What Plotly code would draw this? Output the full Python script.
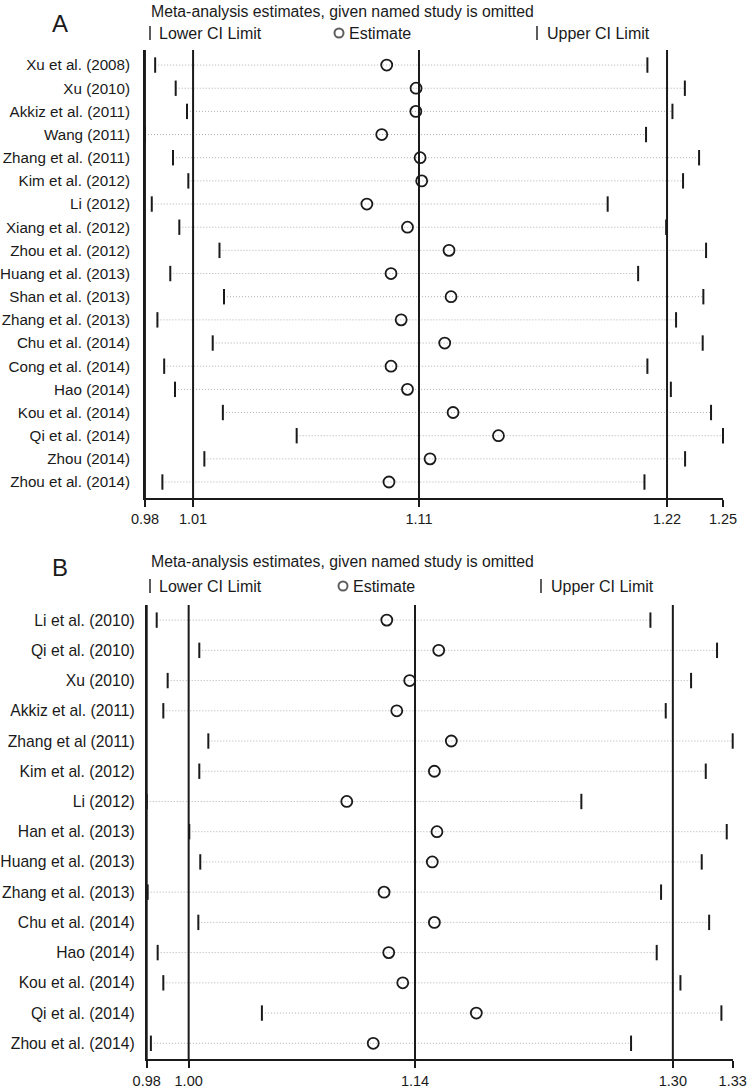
import plotly.graph_objects as go

FONT = "Liberation Sans, Arial, Helvetica, sans-serif"
INK = "#1a1a1a"
DOT = "#b0b0b0"

# ---------------- Panel A data ----------------
studies_A = [
    "Xu et al. (2008)", "Xu (2010)", "Akkiz et al. (2011)", "Wang (2011)",
    "Zhang et al. (2011)", "Kim et al. (2012)", "Li (2012)", "Xiang et al. (2012)",
    "Zhou et al. (2012)", "Huang et al. (2013)", "Shan et al. (2013)",
    "Zhang et al. (2013)", "Chu et al. (2014)", "Cong et al. (2014)", "Hao (2014)",
    "Kou et al. (2014)", "Qi et al. (2014)", "Zhou (2014)", "Zhou et al. (2014)",
]
lower_A = [0.9892, 0.9983, 1.0033, 0.9847, 0.9971, 1.0039, 0.9877, 0.9999,
           1.0177, 0.9959, 1.0197, 0.9902, 1.0147, 0.9932, 0.9980, 1.0192,
           1.0519, 1.0110, 0.9924]
est_A = [1.0918, 1.1048, 1.1047, 1.0896, 1.1066, 1.1073, 1.0830, 1.1010,
         1.1194, 1.0937, 1.1203, 1.0982, 1.1175, 1.0937, 1.1010, 1.1212,
         1.1413, 1.1110, 1.0928]
upper_A = [1.2073, 1.2239, 1.2184, 1.2067, 1.2302, 1.2231, 1.1897, 1.2156,
           1.2333, 1.2032, 1.2321, 1.2200, 1.2318, 1.2073, 1.2177, 1.2355,
           1.2408, 1.2240, 1.2060]
overall_A = [1.0060, 1.1061, 1.2160]          # pooled lower CI, estimate, upper CI
ticktext_A = ["0.98", "1.01", "1.11", "1.22", "1.25"]

# ---------------- Panel B data ----------------
studies_B = [
    "Li et al. (2010)", "Qi et al. (2010)", "Xu (2010)", "Akkiz et al. (2011)",
    "Zhang et al (2011)", "Kim et al. (2012)", "Li (2012)", "Han et al. (2013)",
    "Huang et al. (2013)", "Zhang et al. (2013)", "Chu et al. (2014)", "Hao (2014)",
    "Kou et al. (2014)", "Qi et al. (2014)", "Zhou et al. (2014)",
]
lower_B = [0.9802, 1.0066, 0.9870, 0.9843, 1.0122, 1.0066, 0.9740, 1.0004,
           1.0072, 0.9746, 1.0060, 0.9808, 0.9843, 1.0454, 0.9766]
est_B = [1.1228, 1.1550, 1.1370, 1.1290, 1.1628, 1.1523, 1.0980, 1.1539,
         1.1510, 1.1211, 1.1523, 1.1240, 1.1327, 1.1783, 1.1144]
upper_B = [1.2862, 1.3275, 1.3114, 1.2957, 1.3372, 1.3205, 1.2434, 1.3335,
           1.3180, 1.2928, 1.3226, 1.2901, 1.3048, 1.3302, 1.2742]
overall_B = [1.0000, 1.1403, 1.3001]
ticktext_B = ["0.98", "1.00", "1.14", "1.30", "1.33"]

TITLE = "Meta-analysis estimates, given named study is omitted"
W, H = 755, 1088

# plot-area domains (fractions of the figure)
domA_x = [145 / W, 723 / W]
domA_y = [(H - 498) / H, (H - 50) / H]
domB_x = [146.7 / W, 732.7 / W]
domB_y = [(H - 1059.3) / H, (H - 605) / H]

fig = go.Figure()


def add_panel(studies, lo, est, hi, xa, ya):
    # dotted CI ranges
    xs, ys = [], []
    for s, a, b in zip(studies, lo, hi):
        xs += [a, b, None]
        ys += [s, s, None]
    fig.add_trace(go.Scatter(x=xs, y=ys, mode="lines", xaxis=xa, yaxis=ya,
                             line=dict(color=DOT, width=1, dash="1px,2px"),
                             hoverinfo="skip", showlegend=False))
    for vals in (lo, hi):
        fig.add_trace(go.Scatter(x=vals, y=studies, mode="markers", xaxis=xa, yaxis=ya,
                                 cliponaxis=False,
                                 marker=dict(symbol="line-ns", size=11, color=INK,
                                             line=dict(color=INK, width=2)),
                                 showlegend=False))
    fig.add_trace(go.Scatter(x=est, y=studies, mode="markers", xaxis=xa, yaxis=ya,
                             cliponaxis=False,
                             marker=dict(symbol="circle-open", size=11, color=INK,
                                         line=dict(color=INK, width=1.8)),
                             showlegend=False))


add_panel(studies_A, lower_A, est_A, upper_A, "x", "y")
add_panel(studies_B, lower_B, est_B, upper_B, "x2", "y2")

# reference lines at pooled CI limits and estimate
for vals, xr, yr in ((overall_A, "x", "y domain"), (overall_B, "x2", "y2 domain")):
    for v in vals:
        fig.add_shape(type="line", xref=xr, yref=yr, x0=v, x1=v, y0=0, y1=1,
                      line=dict(color=INK, width=2))

# left axis border of each panel (thin filled bar along the plot-area edge)
for dx_, dy_ in ((domA_x, domA_y), (domB_x, domB_y)):
    fig.add_shape(type="rect", xref="paper", yref="paper",
                  x0=dx_[0] - 1.2 / W, x1=dx_[0] + 0.8 / W, y0=dy_[0], y1=dy_[1],
                  fillcolor=INK, line=dict(width=0), layer="above")


def xaxis_cfg(lo, hi, ticks, dom):
    lo_min, hi_max = min(lo), max(hi)
    return dict(domain=dom, range=[lo_min, hi_max], automargin=False,
                tickvals=[lo_min] + ticks + [hi_max], showgrid=False, zeroline=False,
                showline=True, linecolor=INK, linewidth=1.6, ticks="outside",
                ticklen=7, tickwidth=1.6, tickcolor=INK,
                tickfont=dict(family=FONT, size=14.5, color=INK))


xa = xaxis_cfg(lower_A, upper_A, overall_A, domA_x)
xa.update(ticktext=ticktext_A, anchor="y")
xb = xaxis_cfg(lower_B, upper_B, overall_B, domB_x)
xb.update(ticktext=ticktext_B, anchor="y2")

nA, nB = len(studies_A), len(studies_B)
ya = dict(domain=domA_y, type="category", automargin=False,
          categoryarray=studies_A, range=[nA - 1 + 0.69, -0.65],
          showgrid=False, zeroline=False, showline=True, linecolor=INK, linewidth=1.8,
          ticks="outside", ticklen=10, tickcolor="rgba(0,0,0,0)",
          tickfont=dict(family=FONT, size=15.2, color=INK), anchor="x")
yb = dict(domain=domB_y, type="category", automargin=False,
          categoryarray=studies_B, range=[nB - 1 + 0.53, -0.5],
          showgrid=False, zeroline=False, showline=True, linecolor=INK, linewidth=1.8,
          ticks="outside", ticklen=7, tickcolor="rgba(0,0,0,0)",
          tickfont=dict(family=FONT, size=15.7, color=INK), anchor="x2")

# overlay pixel axes for header decorations (legend keys, panel borders)
x3 = dict(domain=[0, 1], range=[0, W], visible=False, anchor="y3", automargin=False)
y3 = dict(domain=[0, 1], range=[H, 0], visible=False, anchor="x3", automargin=False)

bx, by = [], []
for dx_, dy_ in ((domA_x, domA_y), (domB_x, domB_y)):
    bx += [dx_[0] * W - 0.3, dx_[0] * W - 0.3, None]
    by += [H - dy_[0] * H, H - dy_[1] * H, None]
fig.add_trace(go.Scatter(x=bx, y=by, mode="lines", xaxis="x3", yaxis="y3",
                         line=dict(color=INK, width=2), hoverinfo="skip",
                         showlegend=False, cliponaxis=False))

legend_rows = [  # (panel letter, letter y, title y, legend y, x shift)
    ("A", 23.5, 11, 33, 0),
    ("B", 567.5, 561, 586, 4),
]
key_x = [150, 339, 537]
text_x = [157, 347, 545]
key_labels = ["Lower CI Limit", "Estimate", "Upper CI Limit"]
key_symbols = ["line-ns", "circle-open", "line-ns"]

annotations = []
for letter, ly, ty, gy, dx in legend_rows:
    annotations.append(dict(x=60, y=ly, xref="x3", yref="y3", text=letter, showarrow=False,
                            xanchor="center", yanchor="middle",
                            font=dict(family=FONT, size=24, color=INK)))
    annotations.append(dict(x=149, y=ty, xref="x3", yref="y3", text=TITLE, showarrow=False,
                            xanchor="left", yanchor="middle",
                            font=dict(family=FONT, size=15.8, color=INK)))
    for kx, tx, lab, sym in zip(key_x, text_x, key_labels, key_symbols):
        annotations.append(dict(x=tx + dx * (kx > 200), y=gy, xref="x3", yref="y3", text=lab,
                                showarrow=False, xanchor="left", yanchor="middle",
                                font=dict(family=FONT, size=16, color=INK)))
    fig.add_trace(go.Scatter(
        x=[kx + dx * (kx > 200) for kx in key_x], y=[gy] * 3, mode="markers",
        xaxis="x3", yaxis="y3", hoverinfo="skip", showlegend=False,
        marker=dict(symbol=key_symbols, size=[10, 9, 10], color=INK,
                    line=dict(color=INK, width=2))))

fig.update_layout(
    template="none",
    width=W, height=H, margin=dict(l=0, r=0, t=0, b=0, autoexpand=False),
    paper_bgcolor="white", plot_bgcolor="rgba(0,0,0,0)",
    showlegend=False, font=dict(family=FONT, color=INK),
    xaxis=xa, yaxis=ya, xaxis2=xb, yaxis2=yb, xaxis3=x3, yaxis3=y3,
    annotations=annotations,
)

fig.write_html("out.html", config={"displayModeBar": False},
               post_script="document.body.style.margin='0';")
